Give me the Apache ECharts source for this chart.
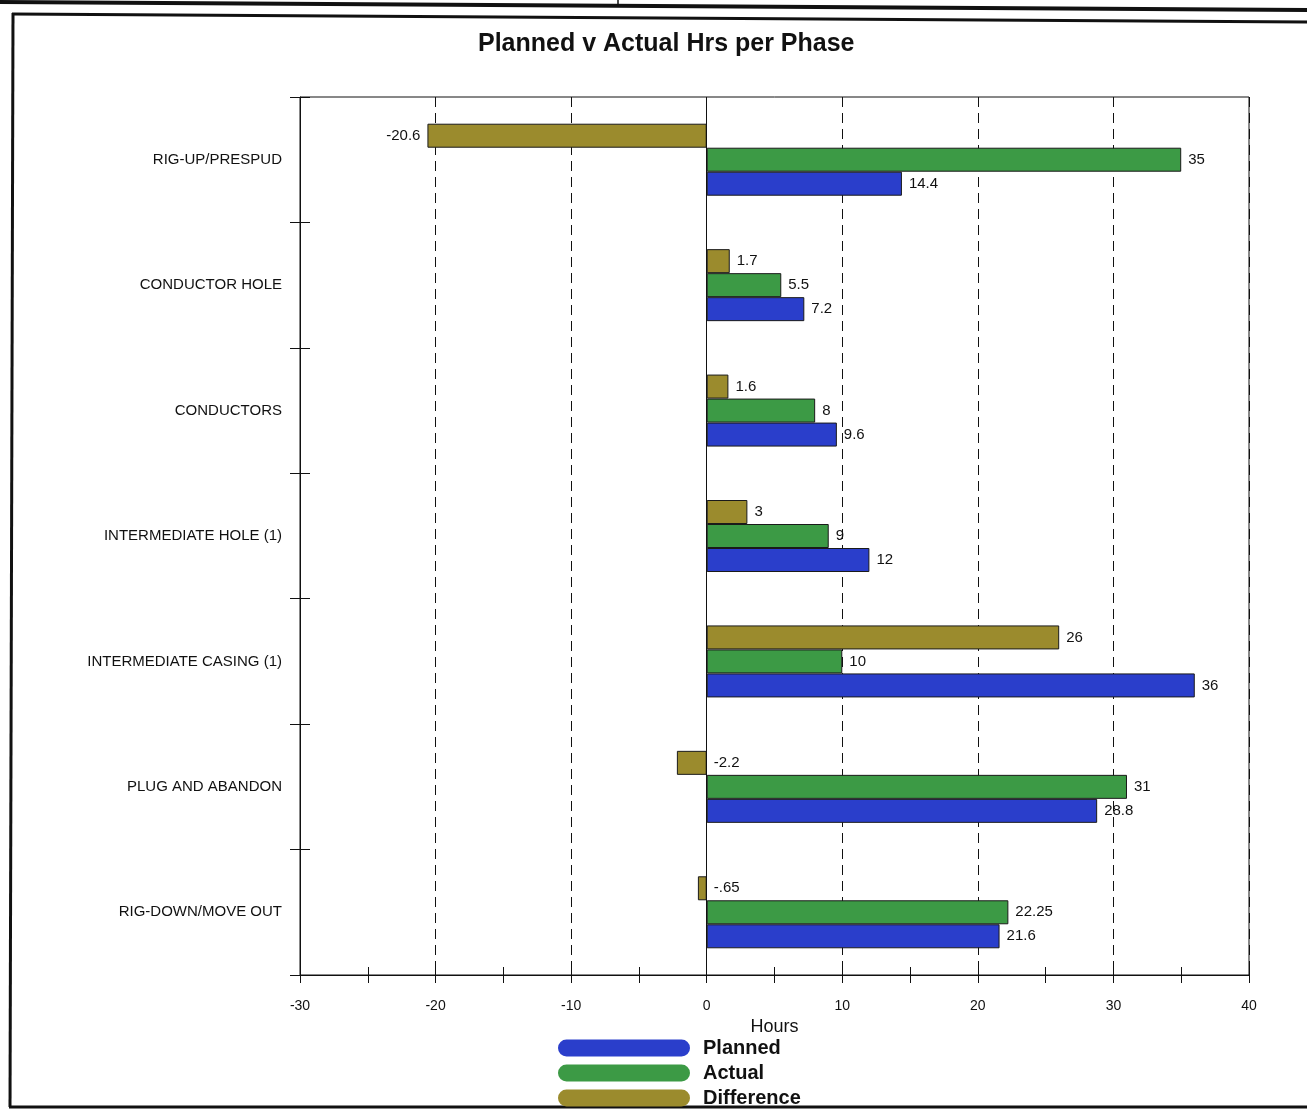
<!DOCTYPE html>
<html>
<head>
<meta charset="utf-8">
<title>Planned v Actual Hrs per Phase</title>
<script src="https://cdn.jsdelivr.net/npm/echarts@6/dist/echarts.min.js"></script>
<style>
  html, body { margin: 0; padding: 0; background: #ffffff; }
  #chart { width: 1307px; height: 1111px; }
</style>
</head>
<body>
<div id="chart"></div>
<script>
// Drilling phases, listed top to bottom
const phases = [
  'RIG-UP/PRESPUD',
  'CONDUCTOR HOLE',
  'CONDUCTORS',
  'INTERMEDIATE HOLE (1)',
  'INTERMEDIATE CASING (1)',
  'PLUG AND ABANDON',
  'RIG-DOWN/MOVE OUT'
];

// Hours per phase
const planned    = [14.4, 7.2, 9.6, 12, 36, 28.8, 21.6];
const actual     = [35, 5.5, 8, 9, 10, 31, 22.25];
const difference = [-20.6, 1.7, 1.6, 3, 26, -2.2, -0.65];

// Value axis ticks
const xMin = -30;
const xMax = 40;
const xStep = 10;

const FONT = '"Liberation Sans", Arial, sans-serif';

const COLORS = {
  planned: '#2a3ecb',
  actual: '#3c9a45',
  difference: '#9b8b2d'
};

// "-0.65" is printed as "-.65", as on the original report
function fmt(v) {
  return String(v).replace(/^(-?)0\./, '$1.');
}

function barData(values) {
  return values.map(function (v) {
    const item = { value: v };
    // long negative bars carry their label beyond the bar end
    if (v < -xStep) {
      item.label = { position: 'left' };
    }
    return item;
  });
}

function barSeries(name, values, color) {
  return {
    name: name,
    type: 'bar',
    data: barData(values),
    barWidth: 24,
    barGap: '0%',
    itemStyle: { color: color, borderColor: '#1a1a1a', borderWidth: 1 },
    label: {
      show: true,
      position: 'right',
      distance: 7,
      color: '#111',
      fontFamily: FONT,
      fontSize: 15,
      formatter: function (p) { return fmt(p.value); }
    }
  };
}

const chart = echarts.init(document.getElementById('chart'), null, { renderer: 'canvas' });

const pill = 'path://M8.5,0 H123.5 A8.5,8.5 0 0 1 123.5,17 H8.5 A8.5,8.5 0 0 1 8.5,0 Z';

const option = {
  backgroundColor: '#ffffff',
  animation: false,
  title: {
    text: 'Planned v Actual Hrs per Phase',
    left: 473,
    top: 27,
    textStyle: { fontFamily: FONT, fontSize: 25, fontWeight: 'bold', color: '#111' }
  },
  grid: {
    left: 300,
    right: 58,
    top: 97,
    bottom: 136,
    show: true,
    borderColor: '#111',
    borderWidth: 1,
    backgroundColor: 'transparent',
    containLabel: false
  },
  legend: {
    orient: 'vertical',
    left: 558,
    top: 1038,
    padding: 0,
    height: 73,
    itemWidth: 132,
    itemHeight: 17,
    itemGap: 5,
    icon: pill,
    data: ['Planned', 'Actual', 'Difference'],
    itemStyle: { borderWidth: 0 },
    textStyle: { fontFamily: FONT, fontSize: 20, lineHeight: 20, fontWeight: 'bold', color: '#111', padding: [0, 0, 0, 8] }
  },
  xAxis: [
    {
      type: 'value',
      min: xMin,
      max: xMax,
      interval: xStep,
      name: 'Hours',
      nameLocation: 'middle',
      nameGap: 42,
      nameTextStyle: { fontFamily: FONT, fontSize: 18, color: '#111' },
      axisLine: { show: true, lineStyle: { color: '#111', width: 1 } },
      axisTick: { show: false },
      axisLabel: { fontFamily: FONT, fontSize: 14, color: '#111', margin: 24 },
      splitLine: { show: true, lineStyle: { color: '#111', width: 1, type: [10, 6] } }
    },
    {
      // tick marks every 5 h, crossing the axis line
      type: 'value',
      position: 'bottom',
      min: xMin,
      max: xMax,
      interval: xStep / 2,
      offset: -8,
      axisLine: { show: false, onZero: false },
      axisTick: { show: true, length: 16, lineStyle: { color: '#111', width: 1 } },
      axisLabel: { show: false },
      splitLine: { show: false }
    }
  ],
  yAxis: [
    {
      type: 'category',
      data: phases,
      inverse: true,
      axisLine: { show: true, onZero: false, lineStyle: { color: '#111', width: 1 } },
      axisTick: { show: false },
      axisLabel: { fontFamily: FONT, fontSize: 15, color: '#111', margin: 18 },
      splitLine: { show: false }
    },
    {
      // phase separators, crossing the axis line
      type: 'category',
      data: phases,
      inverse: true,
      position: 'left',
      offset: -10,
      axisLine: { show: false, onZero: false },
      axisTick: { show: true, length: 20, lineStyle: { color: '#111', width: 1 } },
      axisLabel: { show: false },
      splitLine: { show: false }
    }
  ],
  series: [
    barSeries('Difference', difference, COLORS.difference),
    barSeries('Actual', actual, COLORS.actual),
    barSeries('Planned', planned, COLORS.planned)
  ],
  graphic: [
    // report page frame
    { type: 'line', shape: { x1: 0, y1: 2, x2: 1307, y2: 10 }, style: { stroke: '#111', lineWidth: 4 } },
    { type: 'line', shape: { x1: 618, y1: 0, x2: 618, y2: 7 }, style: { stroke: '#111', lineWidth: 1.5 } },
    { type: 'line', shape: { x1: 12, y1: 14, x2: 1307, y2: 22 }, style: { stroke: '#111', lineWidth: 3 } },
    { type: 'line', shape: { x1: 13, y1: 13, x2: 10, y2: 1107 }, style: { stroke: '#111', lineWidth: 3 } },
    { type: 'line', shape: { x1: 9, y1: 1107, x2: 1307, y2: 1107 }, style: { stroke: '#111', lineWidth: 3 } }
  ]
};

// solid zero line across the plot
option.series[0].markLine = {
  silent: true,
  symbol: 'none',
  label: { show: false },
  lineStyle: { color: '#111', width: 1, type: 'solid' },
  data: [{ xAxis: 0 }]
};

chart.setOption(option);
</script>
</body>
</html>
